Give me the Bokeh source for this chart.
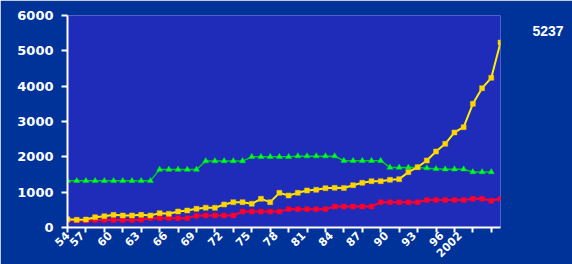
import math
from bokeh.plotting import figure
from bokeh.models import FixedTicker, Range1d, LinearAxis, SingleIntervalTicker
from bokeh.embed import file_html
from bokeh.resources import INLINE

# ---- data ----
tick_labels = ["54", "57", "60", "63", "66", "69", "72", "75", "78", "81",
               "84", "87", "90", "93", "96", "2002"]

yellow = [230, 217, 226, 292, 321, 358, 340, 340, 358, 340,
          406, 387, 453, 481, 530, 560, 557, 651, 717, 717,
          670, 811, 717, 981, 906, 981, 1047, 1066, 1113, 1122,
          1120, 1198, 1264, 1311, 1311, 1349, 1368, 1566, 1707, 1896,
          2151, 2368, 2689, 2840, 3500, 3944, 4236, 5237]

green = [1320, 1320, 1320, 1320, 1320, 1320, 1320, 1320, 1320, 1320,
         1640, 1640, 1640, 1640, 1640, 1880, 1880, 1880, 1880, 1880,
         2000, 2000, 2000, 2000, 2000, 2020, 2020, 2020, 2020, 2020,
         1890, 1890, 1890, 1890, 1890, 1700, 1700, 1700, 1700, 1680,
         1660, 1650, 1650, 1650, 1570, 1570, 1570]

red = [210, 200, 200, 210, 210, 210, 210, 210, 220, 265,
       265, 265, 265, 265, 330, 340, 340, 340, 340, 450,
       450, 450, 450, 450, 520, 520, 520, 520, 520, 594,
       594, 594, 594, 594, 717, 717, 717, 717, 717, 775,
       775, 775, 775, 775, 815, 815, 755, 811]

# ---- figure ----
p = figure(width=572, height=264,
           x_range=Range1d(0, len(yellow) - 1), y_range=Range1d(0, 6000),
           output_backend="svg", toolbar_location=None,
           min_border_left=67, min_border_right=72, min_border_top=15,
           min_border_bottom=37,
           background_fill_color="#1e2cb9", border_fill_color="#003399",
           outline_line_color=None)

p.xgrid.grid_line_color = None
p.ygrid.grid_line_color = None

xs_y = list(range(len(yellow)))
xs_g = list(range(len(green)))
xs_r = list(range(len(red)))

# green
p.line(xs_g, green, line_color="#00cc22", line_width=1.5)
p.scatter(xs_g, green, marker="triangle", size=6, fill_color="#00ff22",
          line_color="#00dd22", line_width=0.5)
# red
p.line(xs_r, red, line_color="#ff0033", line_width=2)
p.scatter(xs_r, red, marker="square", size=5, fill_color="#ff0033",
          line_color="#e00030", line_width=0.5)
# yellow
p.line(xs_y, yellow, line_color="#ffee00", line_width=2)
p.scatter(xs_y, yellow, marker="square", size=5, fill_color="#ffd700",
          line_color="#f0c000", line_width=0.5)

# x axis: rotated labels whose right end sits just left of the category
px_per_cat = 433 / (len(yellow) - 1)
label_pos = [max(3 * i - (4.7 * len(t) + 3.4) / px_per_cat, 0)
             for i, t in enumerate(tick_labels)]
xt = FixedTicker(ticks=label_pos,
                 minor_ticks=list(range(0, len(yellow), 2)))
p.xaxis.ticker = xt
p.xaxis.major_label_overrides = {lp: t for lp, t in zip(label_pos, tick_labels)}
p.xaxis.major_label_orientation = math.pi / 4
p.xaxis.major_tick_line_color = None
p.xaxis.major_tick_out = 0
p.xaxis.major_tick_in = 0
p.xaxis.minor_tick_line_color = "white"
p.xaxis.minor_tick_line_width = 2
p.xaxis.minor_tick_out = 5
p.xaxis.minor_tick_in = 0
p.xaxis.axis_line_color = "white"
p.xaxis.axis_line_width = 2
p.xaxis.major_label_text_color = "white"
p.xaxis.major_label_text_font = "DejaVu Sans"
p.xaxis.major_label_text_font_size = "11px"
p.xaxis.major_label_text_font_style = "bold"
p.xaxis.major_label_standoff = 1

# y axis
p.yaxis.ticker = SingleIntervalTicker(interval=1000, num_minor_ticks=0)
p.yaxis.axis_line_color = "white"
p.yaxis.axis_line_width = 2
p.yaxis.major_tick_line_color = "white"
p.yaxis.major_tick_line_width = 2
p.yaxis.major_tick_out = 6
p.yaxis.major_tick_in = 0
p.yaxis.minor_tick_line_color = None
p.yaxis.major_label_text_color = "white"
p.yaxis.major_label_text_font = "DejaVu Sans"
p.yaxis.major_label_text_font_size = "13px"
p.yaxis.major_label_text_font_style = "bold"
p.yaxis.major_label_standoff = 8

# end value label, shown as a right-hand axis label
end_pos = yellow[-1] + 320
ra = LinearAxis(ticker=FixedTicker(ticks=[end_pos], minor_ticks=[]),
                major_label_overrides={end_pos: str(yellow[-1])},
                axis_line_color=None, major_tick_line_color=None,
                minor_tick_line_color=None, major_tick_out=0, major_tick_in=0,
                major_label_standoff=32, major_label_text_color="white",
                major_label_text_font="Liberation Sans",
                major_label_text_font_size="14px",
                major_label_text_font_style="bold")
p.add_layout(ra, "right")

open("out.html", "w").write(file_html(p, INLINE))
